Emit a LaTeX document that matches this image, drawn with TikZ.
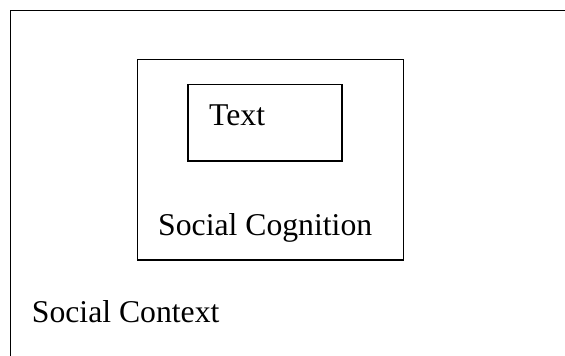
\documentclass[tikz,border=0pt]{standalone}
\usepackage{fontspec}
\setmainfont{Liberation Serif}
\tikzset{
  frame/.style={draw=black, line width=1.7pt},
  label/.style={anchor=base west, inner sep=0pt, font=\fontsize{31.7}{38}\selectfont}
}
\begin{document}
\begin{tikzpicture}[x=1pt,y=-1pt]
  \useasboundingbox (0,0) rectangle (565,356);
  % outer frame, running past the page on the right and bottom
  \draw[frame] (566,10.5) -- (10.5,10.5) -- (10.5,357);
  % middle and inner boxes
  \draw[frame] (137.5,59.5) rectangle (403.5,260);
  \draw[frame] (188,84.5) rectangle (342,161);
  % labels
  \node[label] (text) at (209,125) {Text};
  \node[label] (cog) at (158,235) {Social Cognition};
  \node[label] (ctx) at (31.7,322.7) {Social Context};
\end{tikzpicture}
\end{document}
